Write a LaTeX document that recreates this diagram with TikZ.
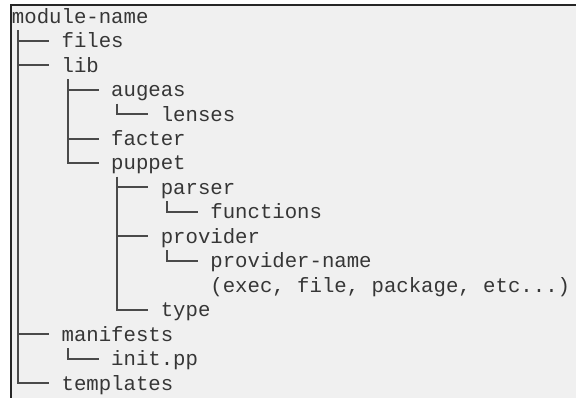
\documentclass[tikz,border=0pt]{standalone}
\usepackage{fontspec}
\setmonofont{Liberation Mono}
\usetikzlibrary{calc}
\definecolor{txt}{HTML}{363636}
\definecolor{ln}{HTML}{4A4A4A}
\definecolor{bg}{HTML}{F0F0F0}
\tikzset{
  entry/.style={anchor=base west, inner sep=0pt, outer sep=0pt, text=txt,
    font=\ttfamily\fontsize{20.67}{24.45}\selectfont},
  branch/.style={draw=ln, line width=2pt}
}
\newcommand{\conn}[2]{\draw[branch] ($(#1.base west)+(6.2,7)$) |- ($(#2.base west)+(-12.4,-7)$);}
\begin{document}
\begin{tikzpicture}[x=1pt,y=-1pt]
\useasboundingbox (0,0) rectangle (576,398);
\fill[white] (0,0) rectangle (576,398);
\fill[bg] (11,5) rectangle (576,398);
\draw[line width=1.5pt, black!85] (11,398) -- (11,5) -- (576,5);
% rows
\node[entry] (root) at (12,23.3) {module-name};
\node[entry] (files) at (61.6,47.75) {files};
\node[entry] (lib) at (61.6,72.2) {lib};
\node[entry] (augeas) at (111.2,96.65) {augeas};
\node[entry] (lenses) at (160.8,121.1) {lenses};
\node[entry] (facter) at (111.2,145.55) {facter};
\node[entry] (puppet) at (111.2,170.0) {puppet};
\node[entry] (parser) at (160.8,194.45) {parser};
\node[entry] (functions) at (210.4,218.9) {functions};
\node[entry] (provider) at (160.8,243.35) {provider};
\node[entry] (pname) at (210.4,267.8) {provider-name};
\node[entry] (pdesc) at (210.4,292.25) {(exec, file, package, etc...)};
\node[entry] (type) at (160.8,316.7) {type};
\node[entry] (manifests) at (61.6,341.15) {manifests};
\node[entry] (init) at (111.2,365.6) {init.pp};
\node[entry] (templates) at (61.6,390.05) {templates};
% connectors
\conn{root}{files}
\conn{root}{lib}
\conn{root}{manifests}
\conn{root}{templates}
\conn{lib}{augeas}
\conn{lib}{facter}
\conn{lib}{puppet}
\conn{augeas}{lenses}
\conn{puppet}{parser}
\conn{puppet}{provider}
\conn{puppet}{type}
\conn{parser}{functions}
\conn{provider}{pname}
\conn{manifests}{init}
\end{tikzpicture}
\end{document}
